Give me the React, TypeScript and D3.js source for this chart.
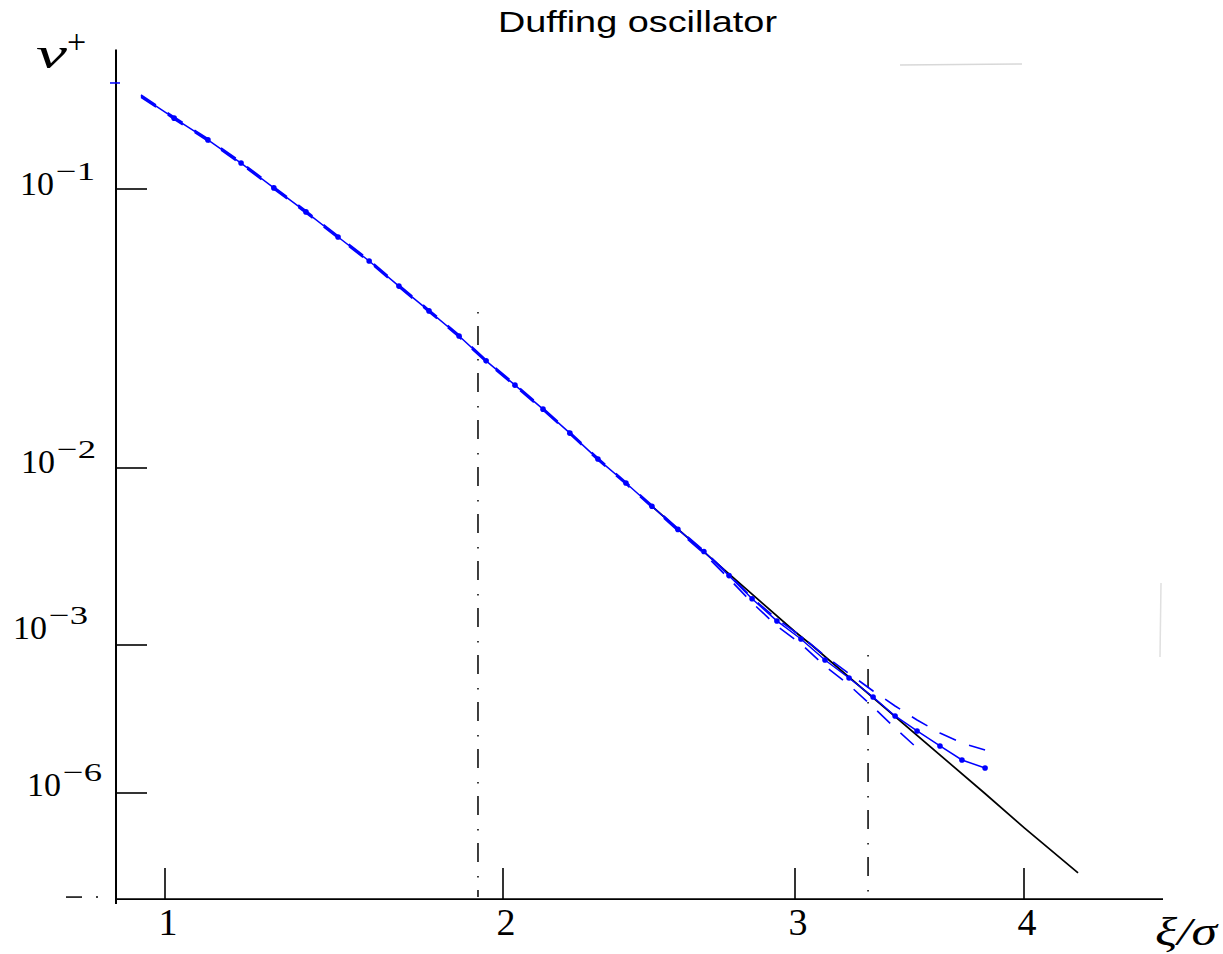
import React from 'react';
import * as d3 from 'd3';

// ---- data ----
const xTickValues = [1, 2, 3, 4];
const xTickLabels = ['1', '2', '3', '4'];
const yTickValues = [-1, -2, -3, -6]; // log10 of nu+
const yTickExps = ['\u22121', '\u22122', '\u22123', '\u22126'];

// simulated level-crossing rate (xi/sigma, log10 nu+)
const xi = [0.929, 1.027, 1.127, 1.225, 1.322, 1.417, 1.512, 1.604, 1.692, 1.781, 1.870, 1.950, 2.041, 2.137, 2.229, 2.325, 2.421, 2.510, 2.599, 2.688, 2.774, 2.853, 2.938, 3.026, 3.131, 3.236, 3.341, 3.437, 3.533, 3.633, 3.729, 3.830];
const logNu = [-0.667, -0.746, -0.824, -0.907, -0.996, -1.082, -1.172, -1.258, -1.348, -1.437, -1.527, -1.616, -1.703, -1.789, -1.875, -1.968, -2.085, -2.216, -2.347, -2.472, -2.608, -2.739, -2.864, -2.966, -3.304, -3.669, -4.054, -4.439, -4.743, -5.047, -5.331, -5.493];
const logNuUpper = [-0.663, -0.742, -0.820, -0.903, -0.992, -1.078, -1.168, -1.254, -1.344, -1.433, -1.523, -1.612, -1.699, -1.785, -1.871, -1.964, -2.079, -2.210, -2.341, -2.466, -2.602, -2.733, -2.853, -2.949, -3.223, -3.578, -3.932, -4.236, -4.520, -4.784, -4.987, -5.128];
const logNuLower = [-0.671, -0.750, -0.828, -0.911, -1.000, -1.086, -1.176, -1.262, -1.352, -1.441, -1.531, -1.620, -1.707, -1.793, -1.879, -1.972, -2.091, -2.222, -2.355, -2.483, -2.625, -2.761, -2.892, -2.994, -3.426, -3.811, -4.257, -4.683, -5.088];

// asymptotic (black) line
const asymX = [2.51, 3.0, 3.072, 3.827, 4.0, 4.236];
const asymLogNu = [-2.216, -2.925, -3.0, -6.0, -6.70, -7.62];

// vertical dash-dot markers
const vlineX = [1.926, 3.319];
const vlineTop = [-1.441, -3.203];

// axis extents
const xMin = 0.858, xMax = 4.607;
const yMin = -8.15, yMax = -0.5;
const topTickValue = -0.62;

// ---- layout (styling only) ----
const labelX = [20, 21, 13, 27];
const labelDy = [6, 5, -6, 3];

const xScale = d3.scaleLinear().domain(xTickValues).range([165, 503, 795, 1024]);
const yScale = d3.scaleLinear().domain(yTickValues).range([189, 468, 645, 793]);

const BLUE = '#0000ff';
const SERIF = '"Liberation Serif", "DejaVu Serif", serif';

export default function App() {
  const line = d3.line<[number, number]>().x(d => xScale(d[0])).y(d => yScale(d[1]));
  const mainPts: [number, number][] = xi.map((x, i) => [x, logNu[i]]);
  const upPts: [number, number][] = logNuUpper.map((v, i) => [xi[i], v]);
  const loPts: [number, number][] = logNuLower.map((v, i) => [xi[i], v]);
  const asymPts: [number, number][] = asymX.map((x, i) => [x, asymLogNu[i]]);

  const ax0 = xScale(xMin);
  const ax1 = xScale(xMax);
  const ay0 = yScale(yMin);
  const ay1 = yScale(yMax);

  return (
    <svg width={1223} height={954} style={{ position: 'absolute', left: 0, top: 0, background: '#fff' }}>
      <rect x={0} y={0} width={1223} height={954} fill="#fff" />
      {/* title */}
      <text x={637.5} y={32} textAnchor="middle" fontFamily='"Liberation Sans", Arial, sans-serif' fontSize={30}
        textLength={279} lengthAdjust="spacingAndGlyphs" fill="#000">Duffing oscillator</text>

      {/* faint scan artifacts */}
      <line x1={900} y1={65} x2={1022} y2={64} stroke="#d8d8d8" strokeWidth={1.5} />
      <line x1={1161} y1={583} x2={1160} y2={657} stroke="#e0e0e0" strokeWidth={1.5} />

      {/* axes */}
      <line x1={ax0 - 1} y1={ay1} x2={ax0 - 1} y2={ay0 + 5} stroke="#000" strokeWidth={2} />
      <line x1={ax0} y1={ay0} x2={ax1} y2={ay0} stroke="#000" strokeWidth={1.8} />

      {/* y ticks */}
      {yTickValues.map((v, i) => (
        <g key={'yt' + i}>
          <line x1={ax0} x2={ax0 + 30} y1={yScale(v)} y2={yScale(v)} stroke="#000" strokeWidth={1.6} />
          <text x={labelX[i]} y={yScale(v) + labelDy[i]} fontFamily={SERIF} fontSize={34} fill="#000">10</text>
          <text x={labelX[i] + 36} y={yScale(v) + labelDy[i] - 15} fontFamily={SERIF} fontSize={26}
            textLength={39} lengthAdjust="spacingAndGlyphs" fill="#000">{yTickExps[i]}</text>
        </g>
      ))}
      <line x1={ax0 - 7} x2={ax0 + 3} y1={yScale(topTickValue)} y2={yScale(topTickValue)} stroke={BLUE} strokeWidth={1.5} />
      <line x1={66} x2={82} y1={ay0 - 2} y2={ay0 - 2} stroke="#000" strokeWidth={1.5} />
      <circle cx={97} cy={ay0 - 2} r={1} fill="#000" />

      {/* x ticks */}
      {xTickValues.map((v, i) => (
        <g key={'xt' + i}>
          <line x1={xScale(v)} x2={xScale(v)} y1={ay0} y2={ay0 - 31} stroke="#000" strokeWidth={1.6} />
          <text x={xScale(v) + 3} y={935} textAnchor="middle" fontFamily={SERIF} fontSize={38} fill="#000">{xTickLabels[i]}</text>
        </g>
      ))}

      {/* axis labels */}
      <text x={36} y={68} fontFamily={SERIF} fontStyle="italic" fontSize={44}
        textLength={31} lengthAdjust="spacingAndGlyphs" fill="#000">ν</text>
      <text x={67} y={53} fontFamily={SERIF} fontSize={34} fill="#000">+</text>
      <text x={1155} y={945} fontFamily={SERIF} fontStyle="italic" fontSize={40}
        textLength={62} lengthAdjust="spacingAndGlyphs" fill="#000">ξ/σ</text>

      {/* vertical dash-dot lines */}
      {vlineX.map((x, i) => (
        <line key={'vl' + i} x1={xScale(x)} x2={xScale(x)} y1={yScale(vlineTop[i])} y2={ay0 - 2}
          stroke="#000" strokeWidth={1.5} strokeDasharray="1.5 12.5 19 14" />
      ))}

      {/* asymptote */}
      <path d={line(asymPts) || ''} fill="none" stroke="#000" strokeWidth={1.7} />

      {/* confidence bounds */}
      <path d={line(upPts) || ''} fill="none" stroke={BLUE} strokeWidth={1.6} strokeDasharray="18 14" />
      <path d={line(loPts) || ''} fill="none" stroke={BLUE} strokeWidth={1.6} strokeDasharray="18 14" />

      {/* main curve */}
      <path d={line(mainPts) || ''} fill="none" stroke={BLUE} strokeWidth={1.5} />
      {mainPts.map((p, i) => i === 0 ? null : (
        <circle key={'m' + i} cx={xScale(p[0])} cy={yScale(p[1])} r={2.8} fill={BLUE} />
      ))}
    </svg>
  );
}
